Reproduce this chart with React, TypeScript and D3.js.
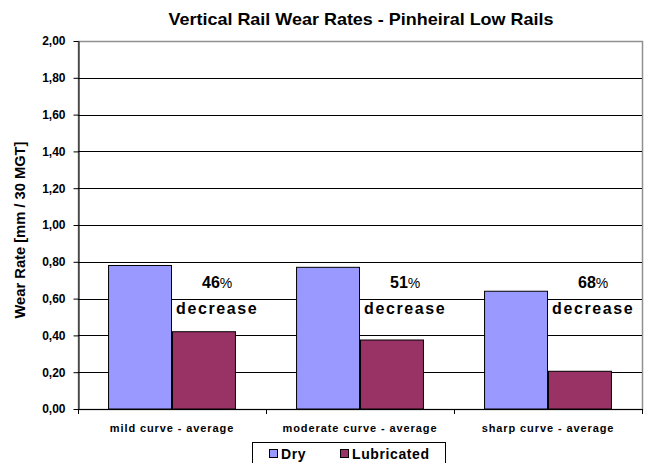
import { useRef, useEffect } from 'react';
import * as d3 from 'd3';

const categories = ['mild curve - average', 'moderate curve - average', 'sharp curve - average'];
const series = ['Dry', 'Lubricated'];
const dryValues = [0.78, 0.77, 0.64];
const lubricatedValues = [0.42, 0.375, 0.205];
const decreaseLabels = ['46', '51', '68'];
const yTicks = [0, 0.2, 0.4, 0.6, 0.8, 1.0, 1.2, 1.4, 1.6, 1.8, 2.0];
const colors = ['#9999ff', '#993366'];

export default function App() {
  const svgRef = useRef<SVGSVGElement>(null);

  useEffect(() => {
    const width = 651;
    const height = 463;
    const margin = { top: 41, right: 9, bottom: 54, left: 78 };

    const svg = d3.select(svgRef.current).attr('width', width).attr('height', height);
    svg.selectAll('*').remove();

    const x0 = d3.scaleBand<string>()
      .domain(categories)
      .range([margin.left, width - margin.right])
      .padding(0);

    const x1 = d3.scaleBand<string>()
      .domain(series)
      .range([0, x0.bandwidth()])
      .paddingInner(0)
      .paddingOuter(0.47);

    const y = d3.scaleLinear()
      .domain([0, 2])
      .range([height - margin.bottom, margin.top]);

    const font = 'Arial, "Liberation Sans", sans-serif';

    // title
    svg.append('text')
      .attr('x', 361)
      .attr('y', 25)
      .attr('text-anchor', 'middle')
      .attr('font-family', font)
      .attr('font-weight', 'bold')
      .attr('font-size', 17)
      .attr('textLength', 385)
      .attr('lengthAdjust', 'spacingAndGlyphs')
      .attr('fill', '#000')
      .text('Vertical Rail Wear Rates - Pinheiral Low Rails');

    // plot border (top and right)
    svg.append('rect')
      .attr('x', margin.left + 0.5)
      .attr('y', margin.top + 0.5)
      .attr('width', width - margin.right - margin.left)
      .attr('height', y(0) - margin.top)
      .attr('fill', 'none')
      .attr('stroke', '#909090')
      .attr('stroke-width', 1.5);

    // gridlines
    svg.append('g')
      .selectAll('line')
      .data(yTicks.filter(t => t > 0 && t < 2))
      .enter()
      .append('line')
      .attr('x1', margin.left)
      .attr('x2', width - margin.right)
      .attr('y1', d => Math.round(y(d)) + 0.5)
      .attr('y2', d => Math.round(y(d)) + 0.5)
      .attr('stroke', '#000')
      .attr('stroke-width', 1);

    // y axis
    const yAxis = svg.append('g')
      .attr('transform', `translate(${margin.left + 0.5},0)`)
      .call(d3.axisLeft(y).tickValues(yTicks).tickSize(5).tickSizeOuter(0)
        .tickFormat(d => d3.format('.2f')(d as number).replace('.', ',')));
    yAxis.select('.domain').attr('stroke', '#000');
    yAxis.selectAll('line').attr('stroke', '#000');
    yAxis.selectAll('text')
      .attr('font-family', font)
      .attr('font-weight', 'bold')
      .attr('font-size', 12)
      .attr('fill', '#000')
      .attr('x', -13);

    // bars
    const groups = svg.append('g')
      .selectAll('g')
      .data(categories)
      .enter()
      .append('g')
      .attr('transform', d => `translate(${x0(d)},0)`);

    groups.selectAll('rect')
      .data((d, i) => [dryValues[i], lubricatedValues[i]].map((v, j) => ({ key: series[j], value: v })))
      .enter()
      .append('rect')
      .attr('x', d => (x1(d.key) as number) + 0.5)
      .attr('y', d => y(d.value))
      .attr('width', x1.bandwidth() - 1)
      .attr('height', d => y(0) - y(d.value))
      .attr('fill', (d, j) => colors[j])
      .attr('stroke', '#000')
      .attr('stroke-width', 1);

    // x axis
    const xAxisG = svg.append('g');
    xAxisG.append('line')
      .attr('x1', margin.left)
      .attr('x2', width - margin.right)
      .attr('y1', y(0) + 0.5)
      .attr('y2', y(0) + 0.5)
      .attr('stroke', '#000');
    const boundaries = categories.map(c => x0(c) as number).concat([width - margin.right]);
    xAxisG.selectAll('line.tick')
      .data(boundaries)
      .enter()
      .append('line')
      .attr('class', 'tick')
      .attr('x1', d => Math.round(d) + 0.5)
      .attr('x2', d => Math.round(d) + 0.5)
      .attr('y1', y(0))
      .attr('y2', y(0) + 5)
      .attr('stroke', '#000');
    xAxisG.selectAll('text')
      .data(categories)
      .enter()
      .append('text')
      .attr('x', d => (x0(d) as number) + x0.bandwidth() / 2)
      .attr('y', y(0) + 23)
      .attr('text-anchor', 'middle')
      .attr('font-family', font)
      .attr('font-weight', 'bold')
      .attr('font-size', 11)
      .attr('letter-spacing', 0.9)
      .attr('fill', '#000')
      .text(d => d);

    // y axis title
    svg.append('text')
      .attr('transform', `translate(25,${230}) rotate(-90)`)
      .attr('text-anchor', 'middle')
      .attr('font-family', font)
      .attr('font-weight', 'bold')
      .attr('font-size', 15)
      .attr('textLength', 177)
      .attr('lengthAdjust', 'spacingAndGlyphs')
      .attr('fill', '#000')
      .text('Wear Rate [mm / 30 MGT]');

    // annotations
    const ann = svg.append('g')
      .selectAll('g')
      .data(categories)
      .enter()
      .append('g');
    const pct = ann.append('text')
      .attr('x', d => (x0(d) as number) + x0.bandwidth() * 0.74)
      .attr('y', y(0.655))
      .attr('text-anchor', 'middle')
      .attr('font-family', font)
      .attr('font-size', 16)
      .attr('fill', '#000');
    pct.append('tspan').attr('font-weight', 'bold').text((d, i) => decreaseLabels[i]);
    pct.append('tspan').attr('font-size', 14).text('%');
    ann.append('text')
      .attr('x', d => (x0(d) as number) + x0.bandwidth() * 0.74)
      .attr('y', y(0.515))
      .attr('text-anchor', 'middle')
      .attr('font-family', font)
      .attr('font-size', 16)
      .attr('font-weight', 'bold')
      .attr('letter-spacing', 1.6)
      .attr('fill', '#000')
      .text('decrease');

    // legend
    const legend = svg.append('g');
    legend.append('rect')
      .attr('x', 252.5)
      .attr('y', 442.5)
      .attr('width', 193)
      .attr('height', 30)
      .attr('fill', '#fff')
      .attr('stroke', '#000');
    const items = legend.selectAll('g')
      .data(series)
      .enter()
      .append('g')
      .attr('transform', (d, i) => `translate(${i === 0 ? 269 : 340},0)`);
    items.append('rect')
      .attr('x', 0.5)
      .attr('y', 449.5)
      .attr('width', 8)
      .attr('height', 8)
      .attr('fill', (d, i) => colors[i])
      .attr('stroke', '#000');
    items.append('text')
      .attr('x', 12)
      .attr('y', 459)
      .attr('font-family', font)
      .attr('font-weight', 'bold')
      .attr('font-size', 14)
      .attr('letter-spacing', 0.6)
      .attr('fill', '#000')
      .text(d => d);
  }, []);

  return (
    <svg ref={svgRef} style={{ position: 'absolute', left: 0, top: 0, background: '#fff' }} />
  );
}
